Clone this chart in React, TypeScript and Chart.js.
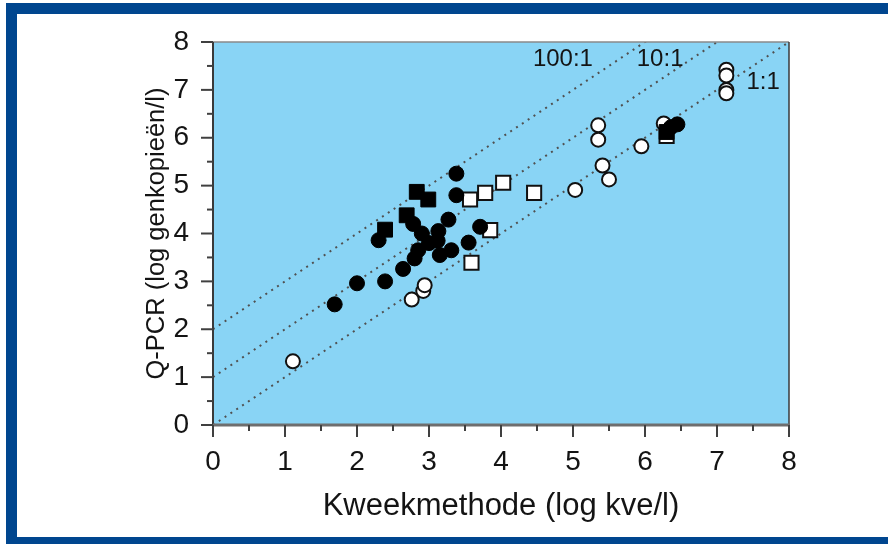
import React, { useEffect, useRef } from "react";
import { Chart, registerables } from "chart.js";

Chart.register(...registerables);

// Data (log kve/l , log genkopieën/l)
const filledCirclesX = [1.69, 2.0, 2.39, 2.30, 2.64, 3.38, 3.38, 3.27, 3.71, 3.55, 3.31, 3.15, 3.12, 3.0, 2.9, 2.78, 2.85, 2.8, 3.13, 6.36, 6.45];
const filledCirclesY = [2.52, 2.96, 3.0, 3.86, 3.26, 5.25, 4.80, 4.29, 4.14, 3.81, 3.65, 3.55, 3.85, 3.8, 4.0, 4.2, 3.65, 3.48, 4.05, 6.22, 6.28];

const filledSquaresX = [2.39, 2.69, 2.83, 2.99, 6.3];
const filledSquaresY = [4.08, 4.38, 4.87, 4.71, 6.12];

const openCirclesX = [1.11, 2.76, 2.92, 2.94, 5.03, 5.35, 5.35, 5.41, 5.50, 5.95, 6.26, 7.13, 7.13, 7.13, 7.13];
const openCirclesY = [1.33, 2.62, 2.8, 2.92, 4.91, 6.26, 5.96, 5.42, 5.13, 5.82, 6.30, 7.42, 7.3, 7.0, 6.93];

const openSquaresX = [3.57, 3.78, 4.03, 4.46, 3.85, 3.59, 6.3];
const openSquaresY = [4.71, 4.85, 5.06, 4.85, 4.07, 3.39, 6.04];

// Reference lines y = x + offset
const refOffsets = [0, 1, 2];
const refLabels = ["1:1", "10:1", "100:1"];
// label anchor in data units
const refLabelX = [7.64, 6.21, 4.86];
const refLabelY = [7.16, 7.64, 7.64];

const tickValues = [0, 1, 2, 3, 4, 5, 6, 7, 8];

const xTitle = "Kweekmethode (log kve/l)";
const yTitle = "Q-PCR (log genkopieën/l)";

const BG = "#89d4f5";
const FONT = "'Liberation Sans', Arial, sans-serif";
const TEXT = "#141414";

const pts = (xs: number[], ys: number[]) => xs.map((x, i) => ({ x, y: ys[i] }));

const decorPlugin = {
  id: "decor",
  beforeDraw(chart: any) {
    const { ctx, chartArea: a } = chart;
    ctx.save();
    ctx.fillStyle = BG;
    ctx.fillRect(a.left, a.top, a.right - a.left, a.bottom - a.top);
    ctx.restore();
  },
  afterDatasetsDraw(chart: any) {
    const { ctx, chartArea: a, scales } = chart;
    const xs = scales.x;
    const ys = scales.y;
    ctx.save();
    // frame
    ctx.lineCap = "butt";
    ctx.strokeStyle = "#8a8a8a";
    ctx.lineWidth = 1.5;
    ctx.beginPath();
    ctx.moveTo(a.left, a.top);
    ctx.lineTo(a.right, a.top);
    ctx.stroke();
    ctx.strokeStyle = "#3a3a3a";
    ctx.lineWidth = 1.5;
    ctx.beginPath();
    ctx.moveTo(a.right, a.top);
    ctx.lineTo(a.right, a.bottom + 12);
    ctx.stroke();
    ctx.lineWidth = 2;
    ctx.beginPath();
    ctx.moveTo(a.left, a.top);
    ctx.lineTo(a.left, a.bottom + 12);
    ctx.stroke();
    ctx.strokeStyle = "#6e6e6e";
    ctx.lineWidth = 3;
    ctx.beginPath();
    ctx.moveTo(a.left, a.bottom);
    ctx.lineTo(a.right, a.bottom);
    ctx.stroke();
    // ticks
    ctx.strokeStyle = "#404040";
    ctx.lineWidth = 2;
    for (let v = 0; v <= 8; v += 0.5) {
      const major = Number.isInteger(v);
      const len = major ? 12 : 6;
      const px = xs.getPixelForValue(v);
      ctx.beginPath();
      ctx.moveTo(px, a.bottom);
      ctx.lineTo(px, a.bottom + len);
      ctx.stroke();
      const py = ys.getPixelForValue(v);
      ctx.beginPath();
      ctx.moveTo(a.left, py);
      ctx.lineTo(a.left - len, py);
      ctx.stroke();
    }
    // reference labels
    ctx.fillStyle = TEXT;
    ctx.font = `24px ${FONT}`;
    ctx.textAlign = "center";
    ctx.textBaseline = "middle";
    refLabels.forEach((t, i) => {
      ctx.fillText(t, xs.getPixelForValue(refLabelX[i]), ys.getPixelForValue(refLabelY[i]));
    });
    ctx.restore();
  },
};

export default function App() {
  const ref = useRef<HTMLCanvasElement>(null);
  useEffect(() => {
    const markerSets = [
      { data: pts(filledCirclesX, filledCirclesY), style: "circle", r: 7.5, bg: "#000", bc: "#000", bw: 1 },
      { data: pts(filledSquaresX, filledSquaresY), style: "rect", r: 10.5, bg: "#000", bc: "#000", bw: 1 },
      { data: pts(openSquaresX, openSquaresY), style: "rect", r: 10, bg: "#fff", bc: "#111", bw: 2 },
      { data: pts(openCirclesX, openCirclesY), style: "circle", r: 7, bg: "#fff", bc: "#111", bw: 2 },
    ];
    const datasets: any[] = markerSets.map((m, i) => ({
      data: m.data,
      pointStyle: m.style,
      pointRadius: m.r,
      backgroundColor: m.bg,
      borderColor: m.bc,
      borderWidth: m.bw,
      order: i,
    }));
    refOffsets.forEach((o) => {
      datasets.push({
        data: [
          { x: 0, y: o },
          { x: 8, y: 8 + o },
        ],
        showLine: true,
        pointRadius: 0,
        borderColor: "#505050",
        borderWidth: 2,
        borderDash: [2, 5],
        fill: false,
        order: 10,
      });
    });
    const chart = new Chart(ref.current!, {
      type: "scatter",
      data: { datasets },
      plugins: [decorPlugin],
      options: {
        animation: false,
        responsive: false,
        devicePixelRatio: 1,
        layout: { padding: { top: 42, right: 99, left: 0, bottom: 0 } },
        plugins: { legend: { display: false }, tooltip: { enabled: false } },
        scales: {
          x: {
            type: "linear",
            min: 0,
            max: 8,
            afterFit: (s: any) => {
              s.height = 119;
            },
            afterBuildTicks: (s: any) => {
              s.ticks = tickValues.map((v) => ({ value: v }));
            },
            grid: { display: false, drawTicks: false },
            border: { display: false },
            ticks: {
              padding: 20,
              color: TEXT,
              font: { family: FONT, size: 28 },
              maxRotation: 0,
            },
            title: {
              display: true,
              text: xTitle,
              color: TEXT,
              font: { family: FONT, size: 31 },
              padding: { top: 0, bottom: 19 },
            },
          },
          y: {
            type: "linear",
            min: 0,
            max: 8,
            afterFit: (s: any) => {
              s.width = 213;
            },
            afterBuildTicks: (s: any) => {
              s.ticks = tickValues.map((v) => ({ value: v }));
            },
            grid: { display: false, drawTicks: false },
            border: { display: false },
            ticks: {
              padding: 24,
              color: TEXT,
              font: { family: FONT, size: 28 },
            },
            title: {
              display: true,
              text: yTitle,
              color: TEXT,
              font: { family: FONT, size: 25.5 },
              padding: { top: 142, bottom: 0 },
            },
          },
        },
      } as any,
    });
    return () => chart.destroy();
  }, []);
  return (
    <div style={{ position: "absolute", left: 0, top: 0, width: 888, height: 544, overflow: "hidden", background: "#fff" }}>
      <div
        style={{
          position: "absolute",
          left: 6,
          top: 3,
          width: 920,
          height: 545,
          border: "11px solid #00468f",
          boxSizing: "border-box",
        }}
      />
      <canvas ref={ref} width={888} height={544} style={{ position: "absolute", left: 0, top: 0, width: 888, height: 544 }} />
    </div>
  );
}
